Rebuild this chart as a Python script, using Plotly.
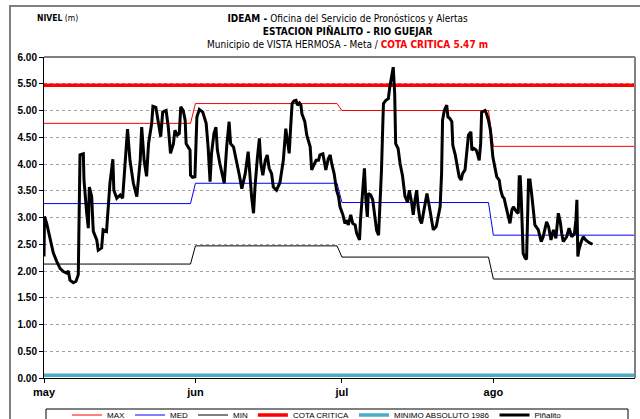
import pandas as pd
import plotly.graph_objects as go

# ---- datos ----
inicio = pd.Timestamp("2021-05-01")
fin_eje = pd.Timestamp("2021-08-30")

# Nivel registrado en la estación Piñalito (días desde el 1 de mayo, metros)
dia = [0.0, 0.1, 0.55, 1.23, 1.9, 2.6, 3.28, 3.95, 4.65, 4.98, 5.32, 6.0, 6.55, 7.02, 7.37,
       8.05, 8.19, 8.74, 9.07, 9.28, 9.77, 9.97, 10.1, 10.8, 11.1, 11.8, 12.1, 12.8, 13.2, 13.5,
       14.1, 14.3, 14.9, 15.6, 16.1, 17.1, 17.6, 18.3, 19.0, 19.7, 20.0, 20.5, 21.0, 21.4, 22.05,
       22.3, 22.9, 23.4, 23.9, 24.3, 25.0, 25.45, 25.9, 26.5, 26.8, 27.3, 27.7, 28.0, 28.5, 28.9,
       29.1, 29.5, 29.9, 30.0, 30.4, 30.9, 31.1, 31.3, 31.8, 32.5, 33.2, 33.6, 34.0, 34.3, 34.8,
       35.2, 35.5, 36.0, 36.9, 37.4, 37.9, 38.2, 38.8, 39.5, 40.0, 40.5, 41.2, 41.8, 42.2, 42.5,
       42.9, 43.2, 43.7, 44.1, 44.4, 44.8, 45.3, 45.7, 46.1, 46.6, 46.95, 47.6, 48.3, 49.0, 49.5,
       49.8, 50.2, 50.5, 50.8, 51.2, 51.6, 51.9, 52.3, 52.6, 52.8, 53.4, 53.8, 54.5, 54.8, 55.1,
       55.7, 56.2, 56.5, 57.1, 57.3, 57.7, 58.2, 58.6, 58.9, 59.4, 59.9, 60.3, 60.6, 61.2, 61.6,
       62.0, 62.3, 62.8, 63.2, 63.7, 64.0, 64.6, 64.8, 65.3, 65.6, 65.9, 66.2, 66.4, 66.9, 67.3,
       67.8, 68.1, 68.5, 68.8, 69.1, 69.35, 69.5, 70.0, 70.5, 70.8, 71.2, 71.5, 71.8, 72.0, 72.5,
       72.9, 73.4, 73.9, 74.4, 74.8, 75.3, 75.6, 75.96, 76.3, 76.6, 77.0, 77.3, 77.7, 78.4, 78.9,
       79.4, 79.7, 80.3, 80.7, 81.1, 81.4, 81.6, 81.96, 82.45, 82.7, 83.1, 83.5, 83.7, 84.2, 84.6,
       85.0, 85.4, 85.7, 86.2, 86.6, 86.9, 87.4, 87.6, 88.0, 88.5, 88.8, 89.1, 89.4, 89.6, 90.3,
       90.6, 91.0, 91.4, 91.9, 92.3, 92.7, 93.2, 93.5, 93.9, 94.2, 94.6, 94.9, 95.2, 95.4, 95.8,
       96.1, 96.7, 97.1, 97.3, 97.5, 97.7, 97.9, 98.1, 98.5, 98.8, 99.2, 99.5, 99.9, 100.2, 100.5,
       101.2, 101.8, 102.2, 102.9, 103.3, 103.8, 104.3, 104.8, 105.3, 105.7, 106.0, 106.3, 107.0,
       107.5, 108.05, 108.6, 108.9, 109.1, 109.3, 109.5, 110.0, 110.4, 110.9, 111.6, 112.3]
nivel = [2.27, 3.02, 2.89, 2.64, 2.34, 2.18, 2.05, 1.99, 1.96, 2.00, 1.83, 1.78, 1.81, 1.93, 4.17,
         4.19, 3.70, 3.08, 2.80, 3.57, 3.39, 2.95, 2.74, 2.58, 2.39, 2.43, 2.77, 2.74, 3.26, 3.64,
         4.09, 3.51, 3.36, 3.42, 3.36, 4.65, 4.07, 3.64, 3.39, 4.07, 4.69, 4.07, 3.77, 4.38, 4.76,
         5.08, 5.06, 4.79, 4.51, 4.97, 5.00, 4.69, 4.20, 4.38, 4.63, 4.54, 4.57, 5.07, 5.00, 4.82,
         4.38, 4.32, 4.26, 3.79, 3.75, 3.76, 4.32, 4.88, 5.02, 4.97, 4.76, 4.32, 3.67, 4.20, 4.57,
         4.69, 4.26, 4.01, 3.64, 4.32, 4.79, 4.38, 4.32, 4.04, 3.79, 3.54, 3.82, 4.23, 3.70, 3.39,
         3.08, 3.57, 4.13, 4.48, 4.01, 3.79, 4.07, 4.17, 3.92, 3.82, 3.57, 3.51, 3.65, 4.07, 4.66,
         4.45, 4.20, 4.69, 5.13, 5.18, 5.19, 5.10, 5.14, 5.10, 4.94, 4.79, 4.54, 4.32, 3.89, 3.95,
         4.07, 4.07, 4.17, 4.19, 4.07, 3.89, 4.10, 4.17, 4.01, 3.82, 3.51, 3.39, 3.20, 3.05, 2.89,
         2.95, 2.86, 3.05, 2.89, 2.86, 2.71, 2.58, 2.95, 3.57, 3.92, 3.33, 3.01, 3.45, 3.42, 3.33,
         3.01, 2.76, 2.67, 3.20, 3.89, 4.69, 5.13, 5.19, 5.22, 5.44, 5.69, 5.81, 5.32, 4.38, 4.29,
         4.01, 3.78, 3.40, 3.29, 3.51, 3.26, 3.05, 3.33, 3.51, 3.20, 2.95, 2.89, 3.11, 3.45, 3.20,
         2.89, 2.77, 2.83, 3.01, 3.20, 3.82, 4.82, 5.00, 5.10, 4.88, 4.85, 4.79, 4.35, 4.17, 3.95,
         3.76, 3.70, 3.82, 3.89, 4.32, 4.54, 4.60, 4.26, 4.29, 4.26, 4.17, 4.07, 4.38, 4.97, 5.00,
         4.94, 4.82, 4.63, 4.13, 3.95, 3.76, 3.70, 3.51, 3.39, 3.36, 3.20, 3.08, 2.98, 2.89, 3.14,
         3.20, 3.11, 3.08, 3.76, 3.76, 3.39, 2.83, 2.33, 2.24, 2.22, 3.70, 3.70, 3.39, 3.08, 2.86,
         2.77, 2.55, 2.64, 2.92, 2.83, 2.58, 2.77, 2.61, 3.08, 2.92, 2.70, 2.55, 2.64,
         2.80, 2.64, 2.70, 2.95, 3.33, 2.27, 2.39, 2.55, 2.64, 2.58, 2.53, 2.50]

# Valores históricos mensuales (mayo, junio, julio, agosto)
meses = ["2021-05-01", "2021-06-01", "2021-07-01", "2021-08-01"]
fin_meses = ["2021-05-31", "2021-06-30", "2021-07-31", "2021-08-31"]
nivel_max = [4.76, 5.13, 5.00, 4.33]
nivel_med = [3.26, 3.64, 3.28, 2.67]
nivel_min = [2.13, 2.47, 2.26, 1.85]

cota_critica = 5.47
minimo_absoluto = 0.05

etiquetas_mes = ["may", "jun", "jul", "ago"]

# ---- figura ----
fechas = [inicio + pd.Timedelta(days=d) for d in dia]


def escalon(valores):
    xs, ys = [], []
    for a, b, v in zip(meses, fin_meses, valores):
        xs += [a, b]
        ys += [v, v]
    return xs, ys


NARROW = "DejaVu Sans Condensed, Liberation Sans Narrow, Arial Narrow, sans-serif"
ARIAL = "Liberation Sans, Arial, sans-serif"

fig = go.Figure()
for nombre, valores, color in [("MAX", nivel_max, "#FF0000"),
                               ("MED", nivel_med, "#0000FF"),
                               ("MIN", nivel_min, "#000000")]:
    xs, ys = escalon(valores)
    fig.add_trace(go.Scatter(x=xs, y=ys, mode="lines", name=nombre,
                             line=dict(color=color, width=1)))

fig.add_trace(go.Scatter(x=[meses[0], fin_meses[-1]], y=[cota_critica] * 2, mode="lines",
                         name="COTA CRITICA", line=dict(color="#FF0000", width=3.5)))
fig.add_trace(go.Scatter(x=[meses[0], fin_meses[-1]], y=[minimo_absoluto] * 2, mode="lines",
                         name="MINIMO ABSOLUTO 1986", line=dict(color="#4BACC6", width=3.5)))
fig.add_trace(go.Scatter(x=fechas, y=nivel, mode="lines", name="Piñalito",
                         line=dict(color="#000000", width=3)))

L, R, T, B, W, H = 44, 5, 57, 41, 640, 419
pw, ph = W - L - R, H - T - B


def px(x):
    return (x - L) / pw


def py(y):
    return (H - B - y) / ph


fig.update_layout(
    width=W, height=H,
    margin=dict(l=L, r=R, t=T, b=B, autoexpand=False),
    paper_bgcolor="white", plot_bgcolor="white",
    showlegend=True,
    legend=dict(orientation="h", xref="container", yref="container",
                x=67 / W, y=1 - 415 / H, xanchor="left", yanchor="middle",
                font=dict(family=ARIAL, size=8, color="#000000"),
                bgcolor="rgba(0,0,0,0)", borderwidth=0, itemwidth=30,
                tracegroupgap=0),
    xaxis=dict(type="date", range=[inicio, fin_eje],
               tickvals=meses, ticktext=etiquetas_mes,
               tickfont=dict(family=ARIAL, size=11, weight="bold", color="#000000"),
               ticks="outside", ticklen=4, tickcolor="#000000",
               showline=True, linecolor="#000000", linewidth=1,
               showgrid=False, zeroline=False),
    yaxis=dict(range=[0, 6], dtick=0.5, tickformat=".2f",
               tickfont=dict(family=ARIAL, size=10, weight="bold", color="#000000"),
               ticks="outside", ticklen=4, tickcolor="#000000",
               showline=True, linecolor="#000000", linewidth=1,
               showgrid=True, gridcolor="#A0A0A0", griddash="dot", gridwidth=1,
               zeroline=False),
    shapes=[
        # marco exterior
        dict(type="rect", xref="paper", yref="paper", x0=px(10), x1=px(660), y0=py(440), y1=py(6),
             line=dict(color="#808080", width=2), layer="below"),
        # borde superior y derecho del área de trazado
        dict(type="line", xref="paper", yref="paper", x0=0, x1=1, y0=1, y1=1,
             line=dict(color="#000000", width=1)),
        dict(type="line", xref="paper", yref="paper", x0=1, x1=1, y0=0, y1=1,
             line=dict(color="#808080", width=2)),
        # recuadro de la leyenda
        dict(type="rect", xref="paper", yref="paper", x0=px(46), x1=px(628), y0=py(440), y1=py(409),
             line=dict(color="#000000", width=1), fillcolor="white", layer="below"),
    ],
    annotations=[
        dict(xref="paper", yref="paper", x=px(348), y=py(11), xanchor="center", yanchor="top",
             showarrow=False, align="center",
             font=dict(family=NARROW, size=10, color="#000000"),
             text=("<b>IDEAM - </b>Oficina del Servicio de Pronósticos y Alertas<br>"
                   "<b>ESTACION PIÑALITO - RIO GUEJAR</b><br>"
                   "Municipio de VISTA HERMOSA - Meta / "
                   "<span style='color:#FF0000'><b>COTA CRITICA 5.47 m</b></span>")),
        dict(xref="paper", yref="paper", x=px(35), y=py(18), xanchor="left", yanchor="middle",
             showarrow=False, font=dict(family=NARROW, size=8.5, color="#000000"),
             text="<b>NIVEL</b> (m)"),
    ],
)

fig.write_html("out.html")
